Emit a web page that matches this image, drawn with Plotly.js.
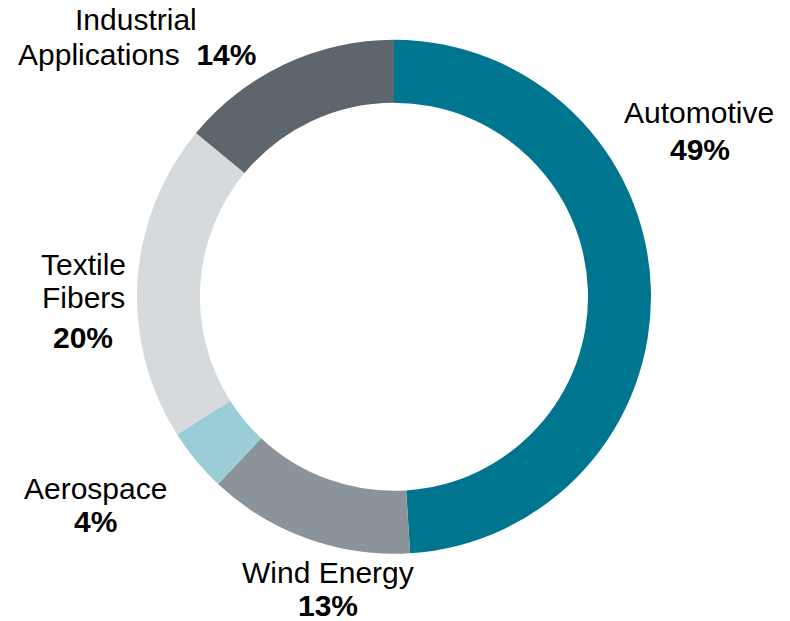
<!DOCTYPE html>
<html>
<head>
<meta charset="utf-8">
<script src="https://cdn.plot.ly/plotly-3.0.1.min.js"></script>
<style>html,body{margin:0;padding:0;background:#fff;}#chart{width:790px;height:621px;}</style>
</head>
<body>
<div id="chart"></div>
<script>
var categories = ["Automotive", "Wind Energy", "Aerospace", "Textile Fibers", "Industrial Applications"];
var values = [49, 13, 4, 20, 14];
var colors = ["#00758f", "#8b949b", "#9bcdd6", "#d7dadd", "#5c666c"];

// label line layout (pixel positions of each line centre)
var labelLines = [
  {lines: ["Automotive"], x: 699, ys: [112], pct: {x: 700, y: 150}},
  {lines: ["Wind Energy"], x: 328, ys: [572], pct: {x: 328, y: 605, h: 28}},
  {lines: ["Aerospace"], x: 95, ys: [488], pct: {x: 95, y: 521}},
  {lines: ["Textile", "Fibers"], x: 83, ys: [264, 297], pct: {x: 83, y: 337}},
  {lines: ["Industrial"], x: 136, ys: [19], pct: null, inline: {x: 137, y: 55, prefix: "Applications\u00a0\u00a0"}}
];

var W = 790, H = 621;
var annotations = [];
function px(x){return x / W;}
function py(y){return 1 - y / H;}
var font = {family: "Liberation Sans, Arial, sans-serif", size: 30, color: "#000"};
labelLines.forEach(function(l, i){
  l.lines.forEach(function(t, j){
    annotations.push({text: t, x: px(l.x), y: py(l.ys[j]), xref: "paper", yref: "paper",
      xanchor: "center", yanchor: "middle", showarrow: false, font: font});
  });
  var pctText = "<b>" + values[i] + "%</b>";
  if (l.pct) {
    var a = {text: pctText, x: px(l.pct.x), y: py(l.pct.y), xref: "paper", yref: "paper",
      xanchor: "center", yanchor: "middle", showarrow: false, font: font};
    if (l.pct.h) { a.height = l.pct.h; a.valign = "middle"; }
    annotations.push(a);
  } else if (l.inline) {
    annotations.push({text: l.inline.prefix + pctText, x: px(l.inline.x), y: py(l.inline.y), xref: "paper", yref: "paper",
      xanchor: "center", yanchor: "middle", showarrow: false, font: font});
  }
});

var trace = {
  type: "pie",
  labels: categories,
  values: values,
  hole: 0.755,
  sort: false,
  direction: "clockwise",
  rotation: 0,
  textinfo: "none",
  hoverinfo: "label+percent",
  marker: {colors: colors, line: {width: 0}},
  domain: {x: [137 / W, 651 / W], y: [1 - 554 / H, 1 - 39.5 / H]},
  showlegend: false
};

var layout = {
  width: W, height: H,
  margin: {l: 0, r: 0, t: 0, b: 0},
  paper_bgcolor: "#ffffff",
  showlegend: false,
  annotations: annotations
};

Plotly.newPlot("chart", [trace], layout, {displayModeBar: false, staticPlot: true});
</script>
</body>
</html>
